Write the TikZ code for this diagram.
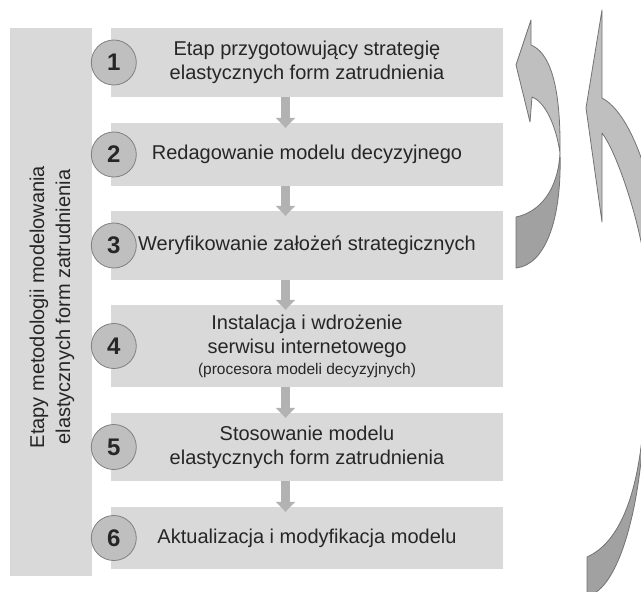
\documentclass[tikz,border=0pt]{standalone}
\usepackage{fontspec}
\setmainfont{Liberation Sans}
\usepackage{tikz}
\usetikzlibrary{positioning, arrows.meta}

\tikzset{
  stagebox/.style={fill=black!15, minimum width=392pt, inner sep=0pt, align=center,
    font=\fontsize{20}{24}\selectfont, text=black!85},
  numcirc/.style={circle, fill=black!25, draw=black!50, line width=0.8pt, minimum size=45pt,
    inner sep=0pt, font=\bfseries\fontsize{24}{24}\selectfont, text=black!85},
  stepline/.style={line width=9pt, draw=black!30, -{Triangle[width=19pt, length=10pt]}},
  ribbonlight/.style={fill=black!25, draw=black!55, line width=0.8pt, line join=round},
  ribbondark/.style={fill=black!37, draw=black!55, line width=0.8pt, line join=round},
}

\begin{document}
\begin{tikzpicture}[x=1pt, y=-1pt]
  \useasboundingbox (0,0) rectangle (641,592);
  \clip (0,0) rectangle (641,592);
  % pasek z nazwa metodologii
  \node[fill=black!15, minimum width=82pt, minimum height=548pt, inner sep=0pt] (bar) at (51,302) {};
  \node[rotate=90, align=center, font=\fontsize{20}{26}\selectfont, text=black!85] (bartxt) at (52,307)
    {Etapy metodologii modelowania\\elastycznych form zatrudnienia};
  % etapy 1-6
  \foreach \i/\yc/\h/\lab in {
    1/62.5/69/{Etap przygotowujący strategię\\elastycznych form zatrudnienia},
    2/154.5/63/{Redagowanie modelu decyzyjnego},
    3/245.5/69/{Weryfikowanie założeń strategicznych},
    4/346/82/{Instalacja i wdrożenie\\serwisu internetowego\\[-3pt]{\fontsize{15.5}{18}\selectfont(procesora modeli decyzyjnych)}},
    5/447/68/{Stosowanie modelu\\elastycznych form zatrudnienia},
    6/538/62/{Aktualizacja i modyfikacja modelu}}{
    \node[stagebox, minimum height=\h pt] (b\i) at (307,\yc) {\lab};
  }
  \foreach \i in {1,...,6}{ \node[numcirc] (n\i) at ([xshift=3pt]b\i.west) {\i}; }
  % strzalki miedzy etapami
  \foreach \i [evaluate=\i as \j using int(\i+1)] in {1,...,5}{
    \draw[stepline] ([xshift=-21.5pt]b\i.south) -- ([xshift=-21.5pt, yshift=-5pt]b\j.north);
  }
  % krotka petla zwrotna (3 -> 1)
  \filldraw[ribbondark] (560,153) .. controls (558,190) and (540,212) .. (516,217) -- (516,268)
    .. controls (545,265) and (562,220) .. (560,153) -- cycle;
  \filldraw[ribbonlight] (531,20) -- (531,45) .. controls (548,52) and (561,80) .. (560,153)
    .. controls (556,125) and (545,102) .. (532,97) -- (530,122) -- (516,65) -- cycle;
  % dluga petla zwrotna (6 -> 1)
  \filldraw[ribbondark] (644,415) .. controls (640,480) and (625,540) .. (587,557) -- (587,596)
    .. controls (620,590) and (642,500) .. (644,415) -- cycle;
  \filldraw[ribbonlight] (602,10) -- (602,98) .. controls (625,110) and (650,160) .. (662,250)
    .. controls (670,320) and (660,380) .. (644,415)
    .. controls (652,340) and (650,280) .. (640,237)
    .. controls (632,200) and (615,150) .. (602,133) -- (602,222) -- (586,108) -- cycle;
\end{tikzpicture}
\end{document}
